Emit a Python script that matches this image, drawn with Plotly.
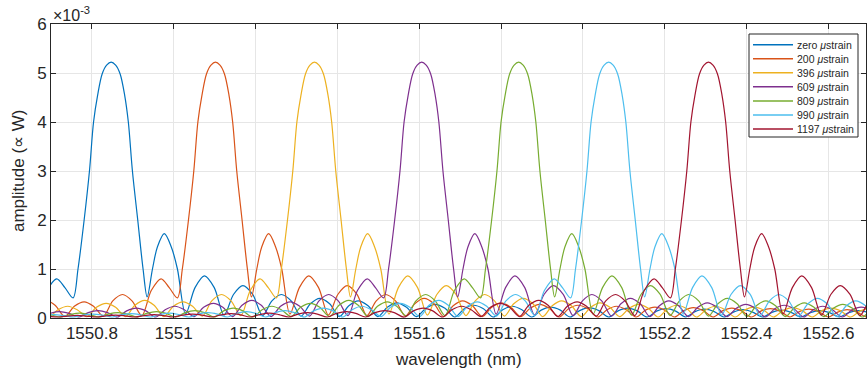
import plotly.graph_objects as go

# Strain levels and the wavelength of each reflection peak (nm)
strain_labels = ["zero", "200", "396", "609", "809", "990", "1197"]
peak_wavelength = [1550.847, 1551.102, 1551.344, 1551.606, 1551.843, 1552.063, 1552.307]
line_colors = ["#0072BD", "#D95319", "#EDB120", "#7E2F8E", "#77AC30", "#4DBEEE", "#A2142F"]

# Reflection spectrum shape relative to its peak: offset (nm) and amplitude (x10^-3 W)
profile_offset = [
    -1.684, -1.661, -1.637, -1.614, -1.590, -1.567, -1.543, -1.520, -1.496, -1.473,
    -1.449, -1.426, -1.402, -1.379, -1.355, -1.332, -1.308, -1.285, -1.261, -1.238,
    -1.214, -1.191, -1.167, -1.144, -1.120, -1.097, -1.073, -1.050, -1.026, -1.003,
    -0.979, -0.956, -0.932, -0.909, -0.885, -0.862, -0.838, -0.815, -0.791, -0.768,
    -0.744, -0.721, -0.697, -0.674, -0.650, -0.627, -0.603, -0.580, -0.556, -0.533,
    -0.509, -0.486, -0.462, -0.439, -0.415, -0.392, -0.368, -0.345, -0.321, -0.298,
    -0.274, -0.251, -0.227, -0.204, -0.180, -0.157, -0.133, -0.113, -0.093,
    -0.081, -0.066, -0.053, -0.043, -0.033, -0.022, -0.011, 0.000,
    0.011, 0.022, 0.033, 0.042, 0.052, 0.065, 0.078, 0.088,
    0.101, 0.113, 0.130, 0.147, 0.162, 0.182,
    0.205, 0.228, 0.252, 0.276, 0.299, 0.322, 0.346, 0.370,
    0.393, 0.416, 0.440, 0.464, 0.487, 0.510, 0.534, 0.558,
    0.581, 0.604, 0.628, 0.652, 0.675, 0.698, 0.722, 0.746,
    0.769, 0.792, 0.816, 0.840, 0.863, 0.886, 0.910, 0.934,
    0.957, 0.980, 1.004, 1.028, 1.051, 1.074, 1.098, 1.122,
    1.145, 1.168, 1.192, 1.216, 1.239, 1.262, 1.286, 1.310,
    1.333, 1.356, 1.380, 1.404, 1.427, 1.450, 1.474, 1.498,
    1.521, 1.544, 1.568, 1.592, 1.615, 1.638, 1.662, 1.686,
    1.709, 1.732, 1.756, 1.780, 1.803, 1.826, 1.850, 1.874,
]
profile_amp = [
    0.02, 0.035, 0.05, 0.035, 0.02, 0.04, 0.055, 0.04, 0.02, 0.045,
    0.06, 0.045, 0.02, 0.05, 0.07, 0.05, 0.02, 0.06, 0.08, 0.06,
    0.02, 0.065, 0.09, 0.065, 0.02, 0.07, 0.10, 0.07, 0.02, 0.08,
    0.11, 0.08, 0.02, 0.095, 0.13, 0.095, 0.02, 0.11, 0.15, 0.11,
    0.02, 0.145, 0.20, 0.145, 0.02, 0.17, 0.24, 0.17, 0.03, 0.22,
    0.30, 0.22, 0.03, 0.26, 0.36, 0.26, 0.03, 0.24, 0.33, 0.24,
    0.04, 0.35, 0.48, 0.35, 0.05, 0.56, 0.80, 0.62, 0.41,
    1.0, 2.0, 3.0, 4.0, 4.55, 4.98, 5.16, 5.22,
    5.16, 4.98, 4.55, 4.0, 3.0, 2.0, 1.0, 0.43,
    1.0, 1.45, 1.72, 1.45, 1.0, 0.08,
    0.62, 0.86, 0.62, 0.06, 0.48, 0.66, 0.48, 0.05,
    0.35, 0.48, 0.35, 0.04, 0.29, 0.40, 0.29, 0.03,
    0.25, 0.35, 0.25, 0.03, 0.22, 0.31, 0.22, 0.03,
    0.20, 0.28, 0.20, 0.02, 0.19, 0.26, 0.19, 0.02,
    0.17, 0.24, 0.17, 0.02, 0.16, 0.22, 0.16, 0.02,
    0.15, 0.21, 0.15, 0.02, 0.145, 0.20, 0.145, 0.02,
    0.14, 0.19, 0.14, 0.02, 0.13, 0.18, 0.13, 0.02,
    0.12, 0.17, 0.12, 0.02, 0.115, 0.16, 0.115, 0.02,
    0.11, 0.15, 0.11, 0.02, 0.11, 0.15, 0.11, 0.02,
]

x_ticks = [1550.8, 1551.0, 1551.2, 1551.4, 1551.6, 1551.8, 1552.0, 1552.2, 1552.4, 1552.6]
x_tick_text = ["1550.8", "1551", "1551.2", "1551.4", "1551.6", "1551.8", "1552", "1552.2", "1552.4", "1552.6"]
y_ticks = [0, 1, 2, 3, 4, 5, 6]

FONT = "Liberation Sans, Arial, sans-serif"
TEXT = "#262626"

W, H = 867, 379
M_L, M_R, M_T, M_B = 51, 1, 24, 61
PLOT_W, PLOT_H = W - M_L - M_R, H - M_T - M_B


def px(x):
    return (x - M_L) / PLOT_W


def py(y):
    return (H - M_B - y) / PLOT_H


fig = go.Figure()
for label, centre, color in zip(strain_labels, peak_wavelength, line_colors):
    fig.add_trace(go.Scatter(
        x=[centre + d for d in profile_offset],
        y=profile_amp,
        mode="lines",
        line=dict(color=color, width=1.2, shape="spline", smoothing=0.9),
        name=f"{label} <i>\u03bc</i>strain",
        showlegend=False,
    ))

axis_common = dict(
    showline=True, linecolor=TEXT, linewidth=1, mirror="ticks",
    ticks="inside", ticklen=5, tickcolor=TEXT,
    showgrid=True, gridcolor="#e6e6e6", gridwidth=1, zeroline=False,
    tickfont=dict(family=FONT, size=17, color=TEXT),
)

# Legend box with one line sample and label per strain level
shapes = [dict(type="rect", xref="paper", yref="paper",
               x0=px(749), x1=px(858), y0=py(137), y1=py(34),
               line=dict(color=TEXT, width=1), fillcolor="white", layer="above")]
annotations = []
for i, (label, color) in enumerate(zip(strain_labels, line_colors)):
    row_y = 44.7 + i * 14.05
    shapes.append(dict(type="line", xref="paper", yref="paper",
                       x0=px(753), x1=px(793), y0=py(row_y), y1=py(row_y),
                       line=dict(color=color, width=1.5), layer="above"))
    annotations.append(dict(text=f"{label} <i>\u03bc</i>strain", xref="paper", yref="paper",
                            x=px(795), y=py(row_y), xanchor="left", yanchor="middle",
                            showarrow=False, font=dict(family=FONT, size=10.5, color=TEXT)))

annotations += [
    dict(text="\u00d710<sup>-3</sup>", xref="paper", yref="paper", x=0, y=1,
         xanchor="left", yanchor="bottom", showarrow=False, yshift=-2,
         font=dict(family=FONT, size=16, color=TEXT)),
    dict(text="wavelength (nm)", xref="paper", yref="paper", x=0.5, y=0,
         xanchor="center", yanchor="top", yshift=-30, showarrow=False,
         font=dict(family=FONT, size=17, color=TEXT)),
    dict(text="amplitude (\u221d W)", xref="paper", yref="paper", x=0, y=0.5,
         xanchor="center", yanchor="middle", xshift=-33, textangle=-90, showarrow=False,
         font=dict(family=FONT, size=17, color=TEXT)),
]

fig.update_layout(
    width=W, height=H,
    margin=dict(l=M_L, r=M_R, t=M_T, b=M_B),
    paper_bgcolor="white", plot_bgcolor="white",
    font=dict(family=FONT, color=TEXT),
    xaxis=dict(range=[1550.7, 1552.692], tickvals=x_ticks, ticktext=x_tick_text, **axis_common),
    yaxis=dict(range=[0, 6], tickvals=y_ticks, **axis_common),
    showlegend=False,
    shapes=shapes,
    annotations=annotations,
)

fig.write_html("out.html")
